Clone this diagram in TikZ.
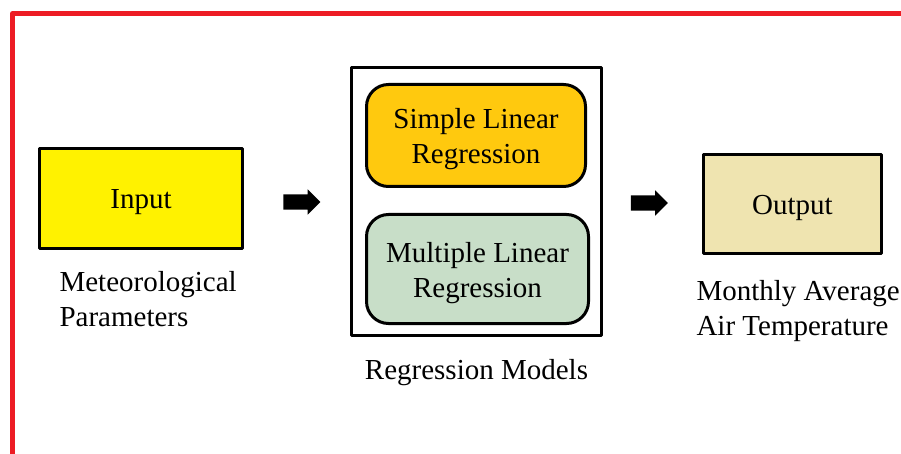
\documentclass[tikz,border=0pt]{standalone}
\usepackage{fontspec}
\setmainfont{Liberation Serif}
\usetikzlibrary{positioning,shapes.arrows}
\definecolor{frame}{HTML}{ED1C24}
\definecolor{inyellow}{HTML}{FFF200}
\definecolor{slrgold}{HTML}{FFC90E}
\definecolor{mlrgreen}{HTML}{C8DEC8}
\definecolor{outtan}{HTML}{EFE4B0}
\begin{document}
\begin{tikzpicture}[x=1pt,y=-1pt,line join=round,
	font=\fontsize{29}{35}\selectfont,
	box/.style={draw=black,line width=3pt,inner sep=0pt},
	intext/.style={label={[align=center,yshift=-4pt]center:#1}},
	model/.style={box,rounded corners=22pt},
	blockarrow/.style={shape=single arrow,fill=black,inner xsep=0pt,inner ysep=7.5pt,
		minimum height=37pt,single arrow head extend=5pt}]
	\useasboundingbox (0,0) rectangle (901,454);
	% partial red frame
	\draw[frame,line width=5pt] (12.5,460) -- (12.5,13.5) -- (910,13.5);
	\path
	(141,198.5) coordinate (i)
	(476.5,201.5) coordinate (m)
	(792.5,204) coordinate (o);
	\node[box,fill=inyellow,minimum width=203pt,minimum height=100pt,intext=Input] (input) at (i) {};
	\node[box,minimum width=250pt,minimum height=268pt] (models) at (m) {};
	\node[model,fill=slrgold,minimum width=219pt,minimum height=102pt,
		intext={Simple Linear\\Regression}] (slr) at (476,135.5) {};
	\node[model,fill=mlrgreen,minimum width=222pt,minimum height=109pt,
		intext={Multiple Linear\\Regression}] (mlr) at (477.5,269) {};
	\node[box,fill=outtan,minimum width=178pt,minimum height=99pt,intext=Output] (output) at (o) {};
	% flow arrows
	\node[blockarrow] (arr1) at (298,202) {};
	\node[blockarrow] (arr2) at (645.5,203) {};
	% captions
	\node[anchor=west,align=left] (inlabel) at (56,299) {Meteorological\\Parameters};
	\node[below=19pt of models] (modlabel) {Regression Models};
	\node[anchor=west,align=left] (outlabel) at (693,311) {Monthly Average\\Air Temperature};
\end{tikzpicture}
\end{document}
